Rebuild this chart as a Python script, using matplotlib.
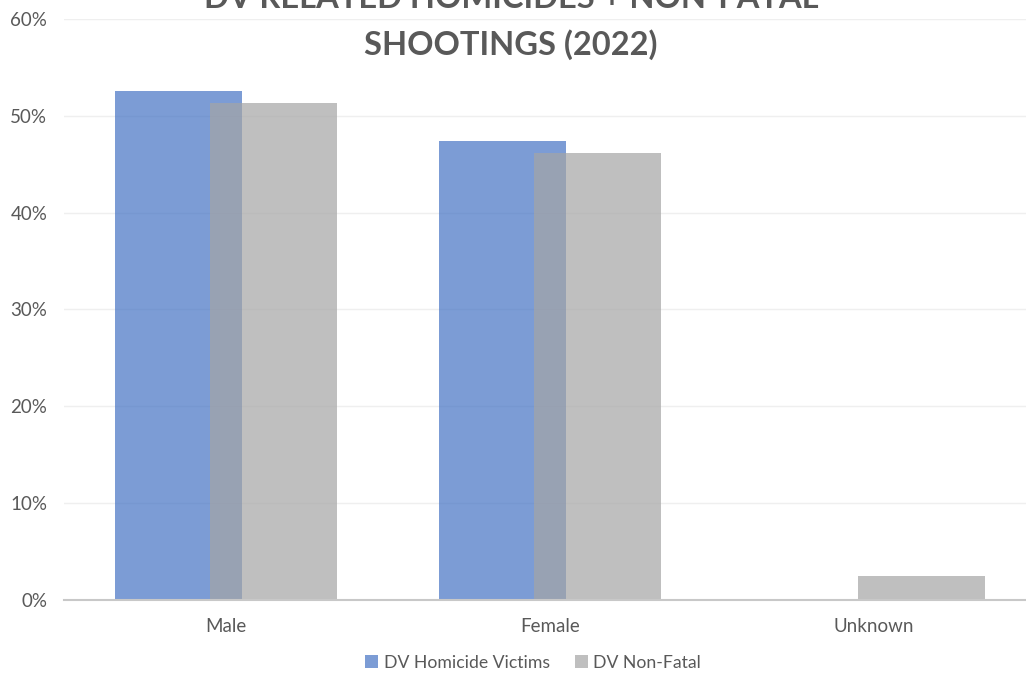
import numpy as np
import matplotlib.pyplot as plt
from matplotlib.ticker import PercentFormatter

plt.rcParams['font.family'] = ['Lato', 'DejaVu Sans']

categories = ["Male", "Female", "Unknown"]
homicide = [0.526, 0.474, 0.0]
non_fatal = [0.513, 0.462, 0.025]

TXT = "#595959"

fig = plt.figure(figsize=(10.26, 6.73), dpi=100)
ax = fig.add_axes([64/1026, 73/673, 972/1026, 581/673])

x = np.arange(len(categories))
w = 0.392
off = 0.1465
ax.bar(x - off, homicide, w, color="#4472C4", alpha=0.7, label="DV Homicide Victims", zorder=2)
ax.bar(x + off, non_fatal, w, color="#A5A5A5", alpha=0.7, label="DV Non-Fatal", zorder=3)

ax.set_xlim(-0.5, 2.5)
ax.set_ylim(0, 0.6)
ax.set_yticks(np.arange(0, 0.61, 0.1))
ax.yaxis.set_major_formatter(PercentFormatter(1.0, decimals=0))
ax.set_xticks(x)
ax.set_xticklabels(categories)

ax.grid(axis='y', color="#EFEFEF", lw=1, zorder=0)
for s in ["top", "right", "left"]:
    ax.spines[s].set_visible(False)
ax.spines["bottom"].set_color("#C8C8C8")
ax.spines["bottom"].set_linewidth(1.5)
ax.spines["bottom"].set_zorder(4)
ax.tick_params(axis='both', length=0, colors=TXT, labelsize=13.5)
ax.tick_params(axis='y', pad=12)
ax.tick_params(axis='x', pad=13)

# title runs off the top edge, as in the exported chart
fig.text(511/1026, 1 - 22/673, "DV RELATED HOMICIDES + NON-FATAL\nSHOOTINGS (2022)",
         ha='center', va='center', fontsize=23.5, fontweight='bold', color=TXT,
         linespacing=1.65)

leg = ax.legend(loc='center', bbox_to_anchor=(533/1026, 1 - 663/673), bbox_transform=fig.transFigure,
                ncol=2, frameon=False, fontsize=12.7, handlelength=0.75, handleheight=0.75,
                handletextpad=0.3, columnspacing=1.4)
for t in leg.get_texts():
    t.set_color(TXT)

fig.savefig("out.png", dpi=100)
